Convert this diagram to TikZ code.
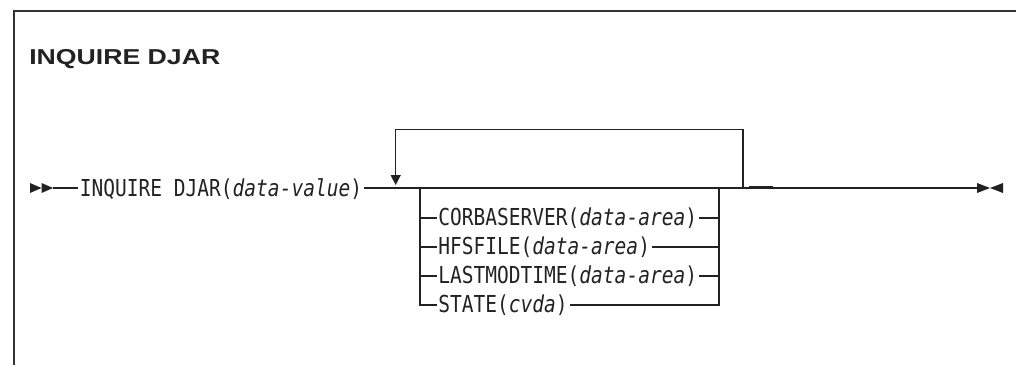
\documentclass[tikz,border=0pt]{standalone}
\usepackage{fontspec}
\newfontfamily\synfont[FakeStretch=0.837]{DejaVu Sans Mono}
\newfontfamily\titlefont{Liberation Sans Bold}
\definecolor{ink}{HTML}{222222}
\definecolor{framec}{HTML}{333333}
\begin{document}
\begin{tikzpicture}[x=0.75pt,y=-0.75pt,
  synline/.style={draw=ink,line width=0.9pt},
  frameline/.style={draw=framec,line width=1.4pt},
  syntxt/.style={anchor=base west,inner xsep=1.2pt,inner ysep=0pt,text=ink,font=\synfont\fontsize{17.5pt}{20pt}\selectfont},
  titletxt/.style={anchor=base west,inner sep=0pt,text=ink,font=\titlefont\fontsize{15.75pt}{18pt}\selectfont},
  tri/.style={fill=ink,draw=none}]
\useasboundingbox (0,0) rectangle (1016,364);
% frame
\draw[frameline] (14,372) -- (14,11) -- (1020,11);
% title
\node[titletxt] (title) at (29,64) {\resizebox{143.25pt}{11.3pt}{INQUIRE DJAR}};
% start marker
\fill[tri] (30,183) -- (41.5,188) -- (30,193) -- cycle;
\fill[tri] (41.5,183) -- (53,188) -- (41.5,193) -- cycle;
\coordinate (s0) at (53,188);
\node[syntxt] (cmd) at (78,196) {INQUIRE DJAR(\textit{data-value})};
\draw[synline] (s0) -- (s0 -| cmd.west);
% main line
\coordinate (e0) at (977,188);
\draw[synline] (cmd.east |- s0) -- (e0);
% end marker
\fill[tri] (977,183) -- (990,188) -- (977,193) -- cycle;
\fill[tri] (1003,183) -- (990,188) -- (1003,193) -- cycle;
% repeat loop
\coordinate (lr) at (743,188);
\coordinate (ll) at (395.7,188);
\coordinate (lt) at (395.7,175);
\draw[synline] (lr) -- (743,129.5) -- (395.7,129.5) -- (lt);
\fill[tri] (390.5,175) -- (400.9,175) -- (395.7,185) -- cycle;
% artifact dash
\draw[draw=ink,line width=1.6pt] (749,187.2) -- (773,187.2);
% choice group
\coordinate (gl) at (420,188);
\coordinate (gr) at (719,188);
\coordinate (r1) at (420,218);
\coordinate (r2) at (420,247);
\coordinate (r3) at (420,276);
\coordinate (r4) at (420,305);
\node[syntxt] (o1) at (436.5,225.5) {CORBASERVER(\textit{data-area})};
\node[syntxt] (o2) at (436.5,254.5) {HFSFILE(\textit{data-area})};
\node[syntxt] (o3) at (436.5,283.5) {LASTMODTIME(\textit{data-area})};
\node[syntxt] (o4) at (436.5,312.5) {STATE(\textit{cvda})};
\draw[synline] (gl) -- (r4) -- (r4 -| o4.west);
\draw[synline] (gr) -- (gr |- r4) -- (r4 -| o4.east);
\foreach \o/\r in {o1/r1,o2/r2,o3/r3}{
  \draw[synline] (\r) -- (\r -| \o.west);
  \draw[synline] (\r -| \o.east) -- (\r -| gr);
}
\end{tikzpicture}
\end{document}
